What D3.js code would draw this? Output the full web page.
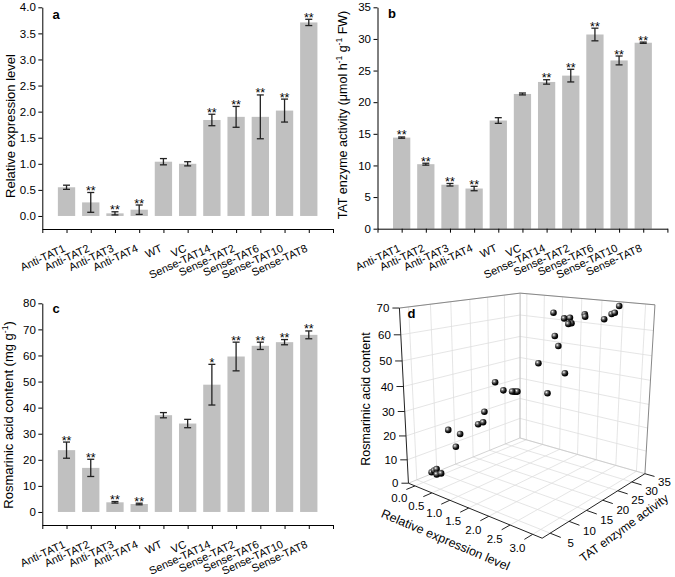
<!DOCTYPE html>
<html><head><meta charset="utf-8">
<script src="https://cdn.jsdelivr.net/npm/d3@7"></script>
<style>body{margin:0;background:#fff} svg{display:block} text{font-family:"Liberation Sans",Arial,sans-serif;fill:#000}</style>
</head><body><svg id="chart" width="675" height="577"></svg>
<script>
const categories = ["Anti-TAT1","Anti-TAT2","Anti-TAT3","Anti-TAT4","WT","VC","Sense-TAT14","Sense-TAT2","Sense-TAT6","Sense-TAT10","Sense-TAT8"];
const exprValues = [0.55,0.26,0.05,0.12,1.04,1.00,1.84,1.90,1.90,2.02,3.71];
const exprErrors = [0.04,0.19,0.03,0.09,0.06,0.04,0.11,0.20,0.42,0.22,0.06];
const exprStars  = ["","**","**","**","","","**","**","**","**","**"];
const tatValues  = [14.4,10.2,6.95,6.35,17.1,21.3,23.2,24.2,30.7,26.6,29.4];
const tatErrors  = [0.1,0.15,0.2,0.35,0.45,0.15,0.35,1.0,1.0,0.7,0.1];
const tatStars   = ["**","**","**","**","","","**","**","**","**","**"];
const raValues   = [23.7,16.9,3.7,3.05,37.1,33.9,48.8,59.6,63.7,65.1,67.9];
const raErrors   = [3.1,3.3,0.3,0.3,1.0,1.6,7.8,5.5,1.4,1.0,1.5];
const raStars    = ["**","**","**","**","","","*","**","**","**","**"];
const exprTicks  = [0,0.5,1,1.5,2,2.5,3,3.5,4];
const tatTicks   = [0,5,10,15,20,25,30,35];
const raTicks    = [0,10,20,30,40,50,60,70,80];
// panel d: individual replicates (expression, TAT activity, RA content)
const scatterExpr = [0.12,0.18,0.00,0.42,0.24,0.14,0.17,0.50,0.39,0.57,0.71,0.75,0.78,1.00,1.23,0.90,0.94,0.98,1.36,1.60,2.02,1.68,1.77,2.00,1.71,1.85,1.89,1.11,1.90,1.91,2.36,2.61,2.68,2.77];
const scatterTat  = [7.0,6.9,7.1,6.0,6.4,6.6,10.2,10.3,10.1,14.4,14.4,14.4,17.1,17.1,17.1,21.3,21.3,21.3,23.2,23.2,23.2,24.2,24.2,24.2,26.6,26.6,26.6,30.7,30.7,30.7,30.7,29.4,29.4,29.4];
const scatterRa   = [3.8,5.4,2.9,5.5,3.8,4.8,20.0,19.7,13.9,21.8,23.2,27.8,38.9,36.3,36.6,33.5,33.6,33.8,46.1,34.4,44.0,57.6,53.8,63.0,64.0,64.5,62.4,64.3,65.0,64.1,63.9,66.7,67.3,70.0];
const expr3Ticks = [0,0.5,1,1.5,2,2.5,3];
const tat3Ticks  = [5,10,15,20,25,30,35];
const ra3Ticks   = [0,10,20,30,40,50,60,70];

const svg = d3.select("#chart");
const FONT = '"Liberation Sans",Arial,sans-serif';

function barPanel(o){
  const g = svg.append("g");
  const x = d3.scaleLinear().domain([0,12]).range([o.x0,o.x1]);
  const y = d3.scaleLinear().domain(o.yDomain).range(o.yRange);
  const step = x(1)-x(0), bw = step*0.715;
  g.append("g").selectAll("rect").data(o.values).join("rect")
    .attr("x",(d,i)=>x(i+1)-bw/2).attr("width",bw)
    .attr("y",d=>y(d)).attr("height",d=>y(0)-y(d)).attr("fill","#c0c0c0");
  const eb = g.append("g").attr("stroke","#222").attr("stroke-width",1.3);
  o.values.forEach((v,i)=>{
    const cx=x(i+1), lo=y(v-o.errors[i]), hi=y(v+o.errors[i]);
    eb.append("line").attr("x1",cx).attr("x2",cx).attr("y1",lo).attr("y2",hi);
    eb.append("line").attr("x1",cx-3.5).attr("x2",cx+3.5).attr("y1",lo).attr("y2",lo);
    eb.append("line").attr("x1",cx-3.5).attr("x2",cx+3.5).attr("y1",hi).attr("y2",hi);
  });
  g.append("g").selectAll("text").data(o.stars).join("text")
    .attr("x",(d,i)=>x(i+1)).attr("y",(d,i)=>y(o.values[i]+o.errors[i])+2.5)
    .attr("text-anchor","middle").attr("font-size",12.5).text(d=>d);
  const ya = g.append("g").attr("transform",`translate(${o.x0},0)`)
    .call(d3.axisLeft(y).tickValues(o.ticks).tickFormat(o.fmt).tickSize(4).tickSizeOuter(0).tickPadding(2.5));
  ya.attr("font-family",FONT).attr("font-size",11.5);
  const xa = g.append("g").attr("transform",`translate(0,${o.yRange[0]})`)
    .call(d3.axisBottom(x).tickValues(d3.range(0,13)).tickFormat(i=>categories[i-1]||"").tickSize(4).tickSizeOuter(0));
  xa.attr("font-family",FONT).attr("font-size",11);
  xa.selectAll("text").attr("y",0).attr("dy",0).attr("text-anchor","end")
    .attr("transform","translate(-1,22) rotate(-25)");
  const t = g.append("text").attr("transform",`translate(${o.titleX},${o.titleY}) rotate(-90)`)
    .attr("text-anchor","middle").attr("font-size",o.titleSize);
  o.title.forEach(p=>{
    if(p.sup) t.append("tspan").attr("dy",-5).attr("font-size",8.5).text(p.sup);
    else t.append("tspan").attr("dy",p.back?5:0).text(p.text);
  });
  svg.append("text").attr("x",o.lx).attr("y",o.ly).attr("font-weight","bold").attr("font-size",13).text(o.letter);
}

barPanel({x0:42.3,x1:333,yDomain:[-0.25,4],yRange:[229,7.3],values:exprValues,errors:exprErrors,stars:exprStars,
  ticks:exprTicks,fmt:d3.format(".1f"),titleX:15,titleY:126,titleSize:13,title:[{text:"Relative expression level"}],letter:"a",lx:52.5,ly:18.5});
barPanel({x0:377.5,x1:667.4,yDomain:[0,35],yRange:[228.7,7.3],values:tatValues,errors:tatErrors,stars:tatStars,
  ticks:tatTicks,fmt:d3.format("d"),titleX:347,titleY:115,titleSize:12.5,
  title:[{text:"TAT enzyme activity (μmol h"},{sup:"-1"},{text:" g",back:true},{sup:"-1"},{text:" FW)",back:true}],letter:"b",lx:388,ly:18.3});
barPanel({x0:42.3,x1:333,yDomain:[-5,80],yRange:[525,303.3],values:raValues,errors:raErrors,stars:raStars,
  ticks:raTicks,fmt:d3.format("d"),titleX:13,titleY:415,titleSize:13,
  title:[{text:"Rosmarinic acid content (mg g"},{sup:"-1"},{text:")",back:true}],letter:"c",lx:52.5,ly:313.3});

// ---------- 3D panel ----------
const X3 = d3.scaleLinear().domain([-0.2,3.2]).range([0,1]);
const Y3 = d3.scaleLinear().domain([3,35]).range([0,1]);
const Z3 = d3.scaleLinear().domain([0,70]).range([0,1]);
const anchors = [[[0,0,0],[408.5,483]],[[1,0,0],[542,538.5]],[[1,1,0],[645,473.3]],[[0,1,0],[520,438.3]],
  [[0,0,1],[399.5,308]],[[0,1,1],[520,293]],[[1,1,1],[655,305]]];
function fitCamera(pairs){
  const A=[],b=[];
  pairs.forEach(([[X,Y,Z],[u,v]])=>{
    A.push([X,Y,Z,1,0,0,0,0,-u*X,-u*Y,-u*Z]); b.push(u);
    A.push([0,0,0,0,X,Y,Z,1,-v*X,-v*Y,-v*Z]); b.push(v);
  });
  const n=11, M=[];
  for(let i=0;i<n;i++){M.push(new Array(n+1).fill(0));
    for(let j=0;j<n;j++){let s=0;for(let k=0;k<A.length;k++)s+=A[k][i]*A[k][j];M[i][j]=s;}
    let s=0;for(let k=0;k<A.length;k++)s+=A[k][i]*b[k];M[i][n]=s;}
  for(let c=0;c<n;c++){let p=c;for(let r=c+1;r<n;r++)if(Math.abs(M[r][c])>Math.abs(M[p][c]))p=r;
    [M[c],M[p]]=[M[p],M[c]];
    for(let r=0;r<n;r++){if(r===c)continue;const f=M[r][c]/M[c][c];for(let k=c;k<=n;k++)M[r][k]-=f*M[c][k];}}
  return M.map((row,i)=>row[n]/row[i]);
}
const P = fitCamera(anchors);
function proj(x,y,z){const s=X3(x),t=Y3(y),w=Z3(z);const d=P[8]*s+P[9]*t+P[10]*w+1;
  return [(P[0]*s+P[1]*t+P[2]*w+P[3])/d,(P[4]*s+P[5]*t+P[6]*w+P[7])/d];}

const g3 = svg.append("g");
const [xmin,xmax]=X3.domain(),[ymin,ymax]=Y3.domain(),[zmin,zmax]=Z3.domain();
function l3(a,b,col,w){const p=proj(...a),q=proj(...b);
  g3.append("line").attr("x1",p[0]).attr("y1",p[1]).attr("x2",q[0]).attr("y2",q[1]).attr("stroke",col).attr("stroke-width",w||0.8);}
const GRID="#dedede";
expr3Ticks.forEach(v=>{l3([v,ymin,0],[v,ymax,0],GRID);l3([v,ymax,0],[v,ymax,zmax],GRID);});
tat3Ticks.forEach(v=>{l3([xmin,v,0],[xmax,v,0],GRID);l3([xmin,v,0],[xmin,v,zmax],GRID);});
ra3Ticks.filter(v=>v>0).forEach(v=>{l3([xmin,ymin,v],[xmin,ymax,v],GRID);l3([xmin,ymax,v],[xmax,ymax,v],GRID);});
l3([xmin,ymin,0],[xmin,ymax,0],"#c8c8c8");l3([xmin,ymax,0],[xmax,ymax,0],"#c8c8c8");
l3([xmin,ymax,0],[xmin,ymax,zmax],"#bbb");
l3([xmin,ymin,zmax],[xmin,ymax,zmax],"#888",1);l3([xmin,ymax,zmax],[xmax,ymax,zmax],"#888",1);
l3([xmax,ymax,0],[xmax,ymax,zmax],"#888",1);
l3([xmin,ymin,0],[xmin,ymin,zmax],"#222",1);l3([xmin,ymin,0],[xmax,ymin,0],"#222",1);l3([xmax,ymin,0],[xmax,ymax,0],"#222",1);
expr3Ticks.forEach(v=>{l3([v,ymin,0],[v,ymin-2,0],"#222",1);const e=proj(v,ymin-2,0);
  g3.append("text").attr("x",e[0]-7).attr("y",e[1]+9).attr("text-anchor","middle").attr("dominant-baseline","central").attr("font-size",11.5).text(d3.format(".1f")(v));});
tat3Ticks.forEach(v=>{l3([xmax,v,0],[xmax+0.22,v,0],"#222",1);const e=proj(xmax+0.22,v,0);
  g3.append("text").attr("x",e[0]+10).attr("y",e[1]+6).attr("text-anchor","middle").attr("dominant-baseline","central").attr("font-size",11.5).text(v);});
ra3Ticks.forEach(v=>{const p=proj(xmin,ymin,v);
  g3.append("line").attr("x1",p[0]-7).attr("x2",p[0]).attr("y1",p[1]).attr("y2",p[1]).attr("stroke","#222");
  g3.append("text").attr("x",p[0]-10).attr("y",p[1]).attr("text-anchor","end").attr("dominant-baseline","central").attr("font-size",11.5).text(v);});
g3.append("text").attr("transform","translate(365.5,399) rotate(-90)").attr("text-anchor","middle").attr("dominant-baseline","central").attr("font-size",12.5).text("Rosmarinic acid content");
g3.append("text").attr("transform","translate(445.5,540) rotate(23)").attr("text-anchor","middle").attr("dominant-baseline","central").attr("font-size",12.5).text("Relative expression level");
g3.append("text").attr("transform","translate(624,528) rotate(-36)").attr("text-anchor","middle").attr("dominant-baseline","central").attr("font-size",12).text("TAT enzyme activity");
svg.append("text").attr("x",407.5).attr("y",318.3).attr("font-weight","bold").attr("font-size",13).text("d");

const defs=svg.append("defs");
const rg=defs.append("radialGradient").attr("id","ball").attr("cx","35%").attr("cy","35%").attr("r","65%");
rg.append("stop").attr("offset","0%").attr("stop-color","#fff");
rg.append("stop").attr("offset","30%").attr("stop-color","#777");
rg.append("stop").attr("offset","70%").attr("stop-color","#111");
rg.append("stop").attr("offset","100%").attr("stop-color","#000");
const pts = scatterExpr.map((v,i)=>({x:v,y:scatterTat[i],z:scatterRa[i]}))
  .sort((a,b)=>(X3(a.x)-Y3(a.y))-(X3(b.x)-Y3(b.y)));
g3.append("g").selectAll("circle").data(pts).join("circle")
  .attr("cx",d=>proj(d.x,d.y,d.z)[0]).attr("cy",d=>proj(d.x,d.y,d.z)[1])
  .attr("r",3.3).attr("fill","url(#ball)");
</script></body></html>
